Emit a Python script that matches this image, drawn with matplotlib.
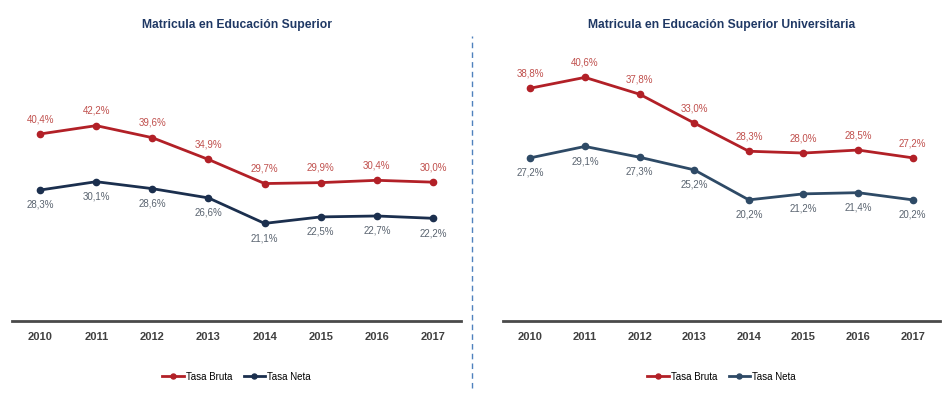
import matplotlib
matplotlib.use("Agg")
import matplotlib.pyplot as plt
import numpy as np

# datos de matricula
years = ["2010", "2011", "2012", "2013", "2014", "2015", "2016", "2017"]
sup_bruta = [40.4, 42.2, 39.6, 34.9, 29.7, 29.9, 30.4, 30.0]
sup_neta = [28.3, 30.1, 28.6, 26.6, 21.1, 22.5, 22.7, 22.2]
univ_bruta = [38.8, 40.6, 37.8, 33.0, 28.3, 28.0, 28.5, 27.2]
univ_neta = [27.2, 29.1, 27.3, 25.2, 20.2, 21.2, 21.4, 20.2]

titles = ["Matricula en Educación Superior", "Matricula en Educación Superior Universitaria"]

red = "#B22027"
red_txt = "#C0504D"
navy_l = "#1B2F4E"
navy_r = "#2E4A66"
grey_txt = "#5A6470"

plt.rcParams['font.family'] = ['Liberation Sans', 'DejaVu Sans']

fig = plt.figure(figsize=(9.47, 3.96), dpi=100)

def fmt(v):
    return ("%.1f%%" % v).replace(".", ",")

def panel(rect, bruta, neta, ymax, title, blue):
    ax = fig.add_axes(rect)
    x = np.arange(len(years))
    lb, = ax.plot(x, bruta, color=red, lw=2, marker='o', ms=4.5, label="Tasa Bruta")
    ln, = ax.plot(x, neta, color=blue, lw=2, marker='o', ms=4.5, label="Tasa Neta")
    for i in x:
        ax.annotate(fmt(bruta[i]), (i, bruta[i]), xytext=(0, 7), textcoords='offset points',
                    ha='center', va='bottom', fontsize=7, color=red_txt)
        ax.annotate(fmt(neta[i]), (i, neta[i]), xytext=(0, -7), textcoords='offset points',
                    ha='center', va='top', fontsize=7, color=grey_txt)
    ax.set_xlim(-0.5, 7.5)
    ax.set_ylim(0, ymax)
    ax.set_xticks(x)
    ax.set_xticklabels(years, fontsize=8, fontweight='bold', color="#404040")
    ax.tick_params(axis='x', length=0, pad=8)
    ax.set_yticks([])
    for s in ['top', 'right', 'left']:
        ax.spines[s].set_visible(False)
    ax.spines['bottom'].set_color("#4A4A4A")
    ax.spines['bottom'].set_linewidth(2)
    ax.set_title(title, fontsize=8.7, fontweight='bold', color="#1F3864", pad=11)
    ax.legend(handles=[lb, ln], loc='upper center', bbox_to_anchor=(0.5, -0.15), ncol=2,
              frameon=False, fontsize=7, handlelength=2.2, columnspacing=1.2,
              handletextpad=0.2, markerscale=0.8)
    return ax

panel([12 / 947, 0.189, 449 / 947, 0.702], sup_bruta, sup_neta, 60, titles[0], navy_l)
panel([503 / 947, 0.189, 437 / 947, 0.702], univ_bruta, univ_neta, 46.3, titles[1], navy_r)

# linea divisoria
fig.add_artist(plt.Line2D([472 / 947, 472 / 947], [0.02, 0.91], transform=fig.transFigure,
                          color="#4F81BD", lw=1, linestyle=(0, (4, 3))))

fig.savefig("out.png", dpi=100)
